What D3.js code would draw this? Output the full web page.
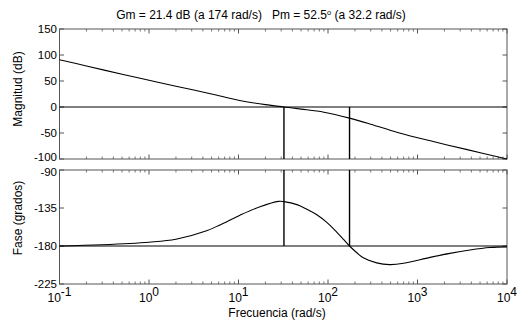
<!DOCTYPE html>
<html><head><meta charset="utf-8">
<script src="https://cdn.jsdelivr.net/npm/d3@7"></script>
<style>
body{margin:0;background:#fff;}
svg{display:block;font-family:"Liberation Sans",Arial,sans-serif;}
</style></head>
<body><svg id="c" width="523" height="322"></svg>
<script>
const titleText = ["Gm = 21.4 dB (a 174 rad/s)   Pm = 52.5", "o", " (a 32.2 rad/s)"];
const magTicks = [150, 100, 50, 0, -50, -100];
const phaseTicks = [-90, -135, -180, -225];
const decadeExps = [-1, 0, 1, 2, 3, 4];
const wGm = 174, wPm = 32.2;
const magW = [0.1,0.2,0.5,1,2,5,10,20,32.2,50,90,174,300,600,1500,3500,10000];
const magDb = [91,79,63,51.5,40,25,13,4.5,0,-4,-10,-21.4,-33,-49,-66.5,-81.5,-100];
const phW = [0.1,0.3,1,2,4.4,6.2,10.4,17.4,28,32.2,45,58,75,97,125,150,174,210,248,350,490,700,1380,2300,3860,6460,10000];
const phDeg = [-180,-178.5,-175.5,-172,-162,-155,-143.5,-133.5,-127.2,-127.5,-131,-136.5,-143,-152,-163.5,-172.5,-180,-188,-194,-200,-202,-200.5,-193.5,-188.7,-184.7,-181.8,-181];

const svg = d3.select("#c");
const L = 59.5, R = 507;
const x = d3.scaleLog().domain([0.1, 10000]).range([L, R]);
const yM = d3.scaleLinear().domain([-100, 150]).range([159, 29]);
const yP = d3.scaleLinear().domain([-225, -90]).range([284, 170]);
const frame = "#555";
const fs = 12;

function axesBox(y, ticks, isBottom, nudge) {
  const [y0, y1] = y.range();
  const g = svg.append("g");
  const minors = [];
  for (let e = -1; e < 4; e++) for (let k = 2; k <= 9; k++) minors.push(k * Math.pow(10, e));
  minors.forEach(v => {
    g.append("line").attr("x1", x(v)).attr("x2", x(v)).attr("y1", y0).attr("y2", y0 - 2.5).attr("stroke", frame).attr("stroke-width", 0.8);
    g.append("line").attr("x1", x(v)).attr("x2", x(v)).attr("y1", y1).attr("y2", y1 + 2.5).attr("stroke", frame).attr("stroke-width", 0.8);
  });
  decadeExps.forEach(e => {
    const v = Math.pow(10, e);
    g.append("line").attr("x1", x(v)).attr("x2", x(v)).attr("y1", y0).attr("y2", y0 - 4.5).attr("stroke", frame);
    g.append("line").attr("x1", x(v)).attr("x2", x(v)).attr("y1", y1).attr("y2", y1 + 4.5).attr("stroke", frame);
  });
  ticks.forEach(t => {
    g.append("line").attr("x1", L).attr("x2", L + 4.5).attr("y1", y(t)).attr("y2", y(t)).attr("stroke", frame);
    g.append("line").attr("x1", R).attr("x2", R - 4.5).attr("y1", y(t)).attr("y2", y(t)).attr("stroke", frame);
    g.append("text").attr("x", 57).attr("y", y(t) + (nudge[t] || 0)).attr("dy", "0.36em").attr("text-anchor", "end")
      .attr("font-size", 11.5).attr("fill", "#000").text(t);
  });
  g.append("rect").attr("x", L).attr("y", y1).attr("width", R - L).attr("height", y0 - y1)
    .attr("fill", "none").attr("stroke", frame).attr("stroke-width", 1);
  if (isBottom) {
    decadeExps.forEach(e => {
      const t = g.append("text").attr("x", x(Math.pow(10, e))).attr("y", 302).attr("text-anchor", "middle")
        .attr("font-size", fs).attr("fill", "#000");
      t.append("tspan").text("10");
      t.append("tspan").attr("dy", -6).attr("font-size", fs).text(String(e));
    });
  }
}
axesBox(yM, magTicks, false, {"-100": -2});
axesBox(yP, phaseTicks, true, {"-90": 1.5});

svg.append("line").attr("x1", L).attr("x2", R).attr("y1", yM(0)).attr("y2", yM(0)).attr("stroke", "#000").attr("stroke-width", 1.2);
svg.append("line").attr("x1", L).attr("x2", R).attr("y1", yP(-180)).attr("y2", yP(-180)).attr("stroke", "#000").attr("stroke-width", 1.2);
[wPm, wGm].forEach(w => {
  svg.append("line").attr("x1", x(w)).attr("x2", x(w)).attr("y1", yM(0)).attr("y2", yM(-100)).attr("stroke", "#000").attr("stroke-width", 1.4);
  svg.append("line").attr("x1", x(w)).attr("x2", x(w)).attr("y1", yP(-90)).attr("y2", yP(-180)).attr("stroke", "#000").attr("stroke-width", 1.4);
});

const magLine = d3.line().x(d => x(d[0])).y(d => yM(d[1])).curve(d3.curveCatmullRom.alpha(0.5));
svg.append("path").attr("d", magLine(magW.map((w, i) => [w, magDb[i]]))).attr("fill", "none").attr("stroke", "#000").attr("stroke-width", 1.1);
const phLine = d3.line().x(d => x(d[0])).y(d => yP(d[1])).curve(d3.curveCatmullRom.alpha(0.5));
svg.append("path").attr("d", phLine(phW.map((w, i) => [w, phDeg[i]]))).attr("fill", "none").attr("stroke", "#000").attr("stroke-width", 1.1);

const tt = svg.append("text").attr("x", 261).attr("y", 19).attr("text-anchor", "middle").attr("font-size", fs)
  .attr("fill", "#000").style("white-space", "pre");
tt.append("tspan").text(titleText[0]);
tt.append("tspan").attr("dy", -4.5).attr("font-size", 7.5).text(titleText[1]);
tt.append("tspan").attr("dy", 4.5).text(titleText[2]);

svg.append("text").attr("transform", "translate(22,89) rotate(-90)").attr("text-anchor", "middle")
  .attr("font-size", fs).attr("fill", "#000").text("Magnitud (dB)");
svg.append("text").attr("transform", "translate(22,218) rotate(-90)").attr("text-anchor", "middle")
  .attr("font-size", fs).attr("fill", "#000").text("Fase (grados)");
svg.append("text").attr("x", 277).attr("y", 317).attr("text-anchor", "middle")
  .attr("font-size", fs).attr("fill", "#000").text("Frecuencia (rad/s)");
</script></body></html>
